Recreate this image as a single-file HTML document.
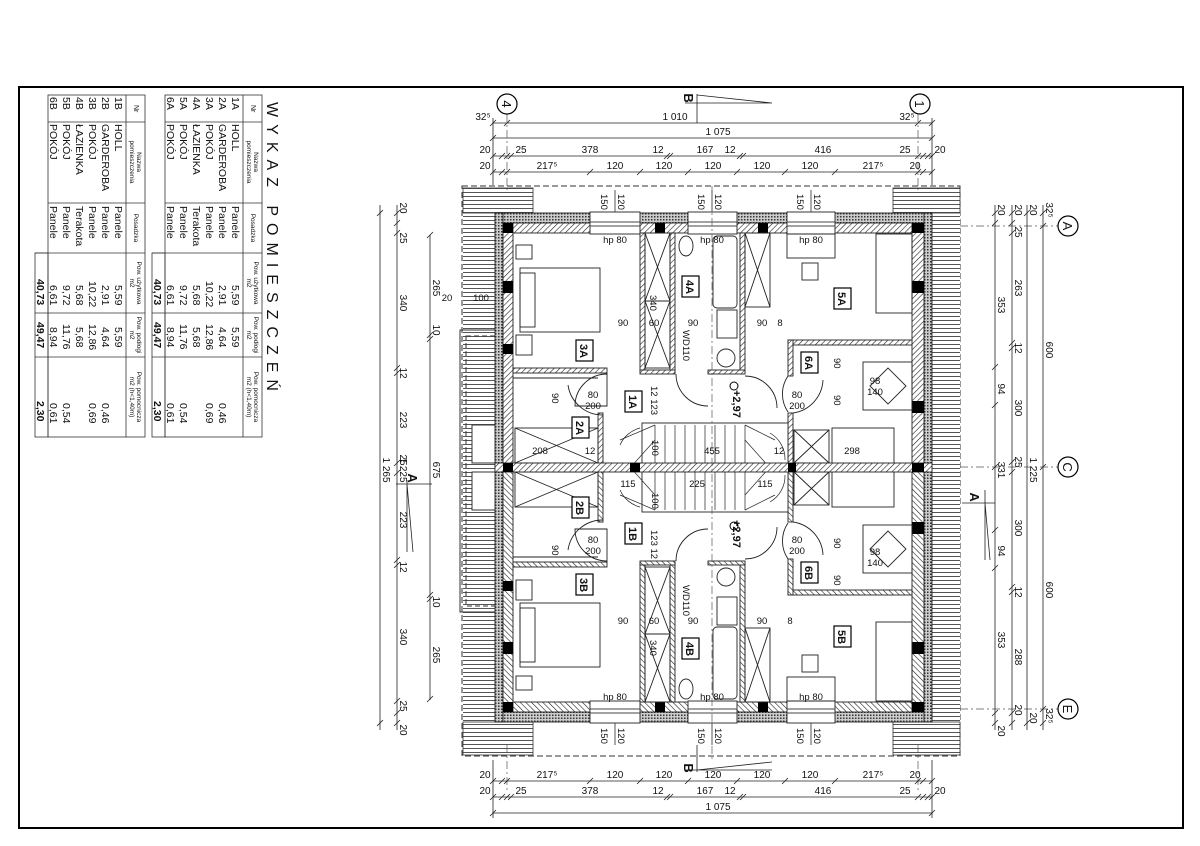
<!DOCTYPE html>
<html><head><meta charset="utf-8"><style>
html,body{margin:0;padding:0;background:#fff}
svg{display:block}
text{font-family:"Liberation Sans",sans-serif;fill:#111}
</style></head><body>
<svg width="1200" height="846" viewBox="0 0 1200 846" xmlns="http://www.w3.org/2000/svg">
<defs>
<pattern id="hh" width="4" height="4" patternUnits="userSpaceOnUse"><rect width="4" height="4" fill="#fff"/><line x1="0" y1="0.5" x2="4" y2="0.5" stroke="#555" stroke-width="1"/></pattern>
<pattern id="dg" width="4" height="4" patternUnits="userSpaceOnUse" patternTransform="rotate(45)"><rect width="4" height="4" fill="#fff"/><line x1="0" y1="0" x2="0" y2="4" stroke="#222" stroke-width="1.2"/></pattern>
<pattern id="dt" width="3" height="3" patternUnits="userSpaceOnUse"><rect width="3" height="3" fill="#ccc"/><rect width="1.5" height="1.5" fill="#333"/></pattern>
</defs>
<rect x="19" y="87" width="1164" height="741" fill="none" stroke="#000" stroke-width="2"/>

<!-- ===== TABLES ===== -->
<g font-size="10.5">
<g transform="translate(262,95) rotate(90)" stroke="#333" stroke-width="0.8">
 <rect x="0" y="0" width="342" height="97" fill="none"/>
 <rect x="158" y="97" width="184" height="13" fill="none"/>
 <line x1="0" y1="19" x2="342" y2="19"/>
 <line x1="27" y1="0" x2="27" y2="97"/><line x1="108" y1="0" x2="108" y2="97"/>
 <line x1="158" y1="0" x2="158" y2="110"/><line x1="218" y1="0" x2="218" y2="110"/><line x1="262" y1="0" x2="262" y2="110"/>
 <g stroke="none">
 <text x="10" y="11" font-size="7">Nr</text><text x="67" y="8" font-size="6.5" text-anchor="middle">Nazwa</text><text x="67" y="15" font-size="6.5" text-anchor="middle">pomieszczenia</text>
 <text x="133" y="11" font-size="6.5" text-anchor="middle">Posadzka</text>
 <text x="188" y="8" font-size="6.5" text-anchor="middle">Pow. użytkowa</text><text x="188" y="15" font-size="6.5" text-anchor="middle">m2</text>
 <text x="240" y="8" font-size="6.5" text-anchor="middle">Pow. podłogi</text><text x="240" y="15" font-size="6.5" text-anchor="middle">m2</text>
 <text x="302" y="8" font-size="6.5" text-anchor="middle">Pow. pomocnicza</text><text x="302" y="15" font-size="6.5" text-anchor="middle">m2 (h&lt;1,40m)</text>
 <text x="2" y="30">1A</text><text x="29" y="30">HOLL</text><text x="111" y="30">Panele</text><text x="190" y="30">5,59</text><text x="232" y="30">5,59</text>
 <text x="2" y="43">2A</text><text x="29" y="43">GARDEROBA</text><text x="111" y="43">Panele</text><text x="190" y="43">2,91</text><text x="232" y="43">4,64</text><text x="308" y="43">0,46</text>
 <text x="2" y="56">3A</text><text x="29" y="56">POKÓJ</text><text x="111" y="56">Panele</text><text x="186" y="56">10,22</text><text x="229" y="56">12,86</text><text x="308" y="56">0,69</text>
 <text x="2" y="69">4A</text><text x="29" y="69">ŁAZIENKA</text><text x="111" y="69">Terakota</text><text x="190" y="69">5,68</text><text x="232" y="69">5,68</text>
 <text x="2" y="82">5A</text><text x="29" y="82">POKÓJ</text><text x="111" y="82">Panele</text><text x="190" y="82">9,72</text><text x="229" y="82">11,76</text><text x="308" y="82">0,54</text>
 <text x="2" y="95">6A</text><text x="29" y="95">POKÓJ</text><text x="111" y="95">Panele</text><text x="190" y="95">6,61</text><text x="232" y="95">8,94</text><text x="308" y="95">0,61</text>
 <text x="184" y="108" font-weight="bold">40,73</text><text x="227" y="108" font-weight="bold">49,47</text><text x="306" y="108" font-weight="bold">2,30</text>
 <text x="155" y="-5" font-size="16" letter-spacing="7" text-anchor="middle">WYKAZ POMIESZCZEŃ</text>
 </g>
</g>
<g transform="translate(145,95) rotate(90)" stroke="#333" stroke-width="0.8">
 <rect x="0" y="0" width="342" height="97" fill="none"/>
 <rect x="158" y="97" width="184" height="13" fill="none"/>
 <line x1="0" y1="19" x2="342" y2="19"/>
 <line x1="27" y1="0" x2="27" y2="97"/><line x1="108" y1="0" x2="108" y2="97"/>
 <line x1="158" y1="0" x2="158" y2="110"/><line x1="218" y1="0" x2="218" y2="110"/><line x1="262" y1="0" x2="262" y2="110"/>
 <g stroke="none">
 <text x="10" y="11" font-size="7">Nr</text><text x="67" y="8" font-size="6.5" text-anchor="middle">Nazwa</text><text x="67" y="15" font-size="6.5" text-anchor="middle">pomieszczenia</text>
 <text x="133" y="11" font-size="6.5" text-anchor="middle">Posadzka</text>
 <text x="188" y="8" font-size="6.5" text-anchor="middle">Pow. użytkowa</text><text x="188" y="15" font-size="6.5" text-anchor="middle">m2</text>
 <text x="240" y="8" font-size="6.5" text-anchor="middle">Pow. podłogi</text><text x="240" y="15" font-size="6.5" text-anchor="middle">m2</text>
 <text x="302" y="8" font-size="6.5" text-anchor="middle">Pow. pomocnicza</text><text x="302" y="15" font-size="6.5" text-anchor="middle">m2 (h&lt;1,40m)</text>
 <text x="2" y="30">1B</text><text x="29" y="30">HOLL</text><text x="111" y="30">Panele</text><text x="190" y="30">5,59</text><text x="232" y="30">5,59</text>
 <text x="2" y="43">2B</text><text x="29" y="43">GARDEROBA</text><text x="111" y="43">Panele</text><text x="190" y="43">2,91</text><text x="232" y="43">4,64</text><text x="308" y="43">0,46</text>
 <text x="2" y="56">3B</text><text x="29" y="56">POKÓJ</text><text x="111" y="56">Panele</text><text x="186" y="56">10,22</text><text x="229" y="56">12,86</text><text x="308" y="56">0,69</text>
 <text x="2" y="69">4B</text><text x="29" y="69">ŁAZIENKA</text><text x="111" y="69">Terakota</text><text x="190" y="69">5,68</text><text x="232" y="69">5,68</text>
 <text x="2" y="82">5B</text><text x="29" y="82">POKÓJ</text><text x="111" y="82">Panele</text><text x="190" y="82">9,72</text><text x="229" y="82">11,76</text><text x="308" y="82">0,54</text>
 <text x="2" y="95">6B</text><text x="29" y="95">POKÓJ</text><text x="111" y="95">Panele</text><text x="190" y="95">6,61</text><text x="232" y="95">8,94</text><text x="308" y="95">0,61</text>
 <text x="184" y="108" font-weight="bold">40,73</text><text x="227" y="108" font-weight="bold">49,47</text><text x="306" y="108" font-weight="bold">2,30</text>
 </g>
</g>
</g>

<!-- ===== ROOF HATCH ===== -->
<rect x="462" y="186" width="498" height="570" fill="#fff" stroke="#333" stroke-width="1" stroke-dasharray="6,3"/>
<rect x="463" y="188" width="32" height="566" fill="url(#hh)"/>
<rect x="932" y="188" width="28" height="566" fill="url(#hh)"/>
<rect x="463" y="188" width="70" height="25" fill="url(#hh)" stroke="#333" stroke-width="0.8"/>
<rect x="893" y="188" width="67" height="25" fill="url(#hh)" stroke="#333" stroke-width="0.8"/>
<rect x="463" y="722" width="70" height="33" fill="url(#hh)" stroke="#333" stroke-width="0.8"/>
<rect x="893" y="722" width="67" height="33" fill="url(#hh)" stroke="#333" stroke-width="0.8"/>
<!-- left roof window -->
<rect x="460" y="330" width="43" height="282" fill="none" stroke="#333" stroke-width="1"/>
<rect x="466" y="336" width="36" height="270" fill="none" stroke="#333" stroke-width="1" stroke-dasharray="5,3"/>
<rect x="472" y="425" width="28" height="38" fill="#fff" stroke="#333"/>
<rect x="472" y="472" width="28" height="38" fill="#fff" stroke="#333"/>

<!-- ===== TOP HALF (mirrored for bottom) ===== -->
<g id="half" stroke="#222" stroke-width="0.9">
 <!-- outer walls -->
 <rect x="495" y="213" width="437" height="10" fill="url(#dt)"/>
 <rect x="495" y="213" width="8" height="255" fill="url(#dt)"/>
 <rect x="924" y="213" width="8" height="255" fill="url(#dt)"/>
 <rect x="503" y="223" width="421" height="10" fill="url(#dg)"/>
 <rect x="503" y="223" width="10" height="245" fill="url(#dg)"/>
 <rect x="912" y="223" width="12" height="245" fill="url(#dg)"/>
 <!-- windows -->
 <g fill="#fff"><rect x="590" y="212" width="50" height="22"/><rect x="688" y="212" width="49" height="22"/><rect x="787" y="212" width="48" height="22"/></g>
 <g stroke="#444"><line x1="590" y1="222" x2="640" y2="222"/><line x1="688" y1="222" x2="737" y2="222"/><line x1="787" y1="222" x2="835" y2="222"/>
 <line x1="590" y1="226" x2="640" y2="226"/><line x1="688" y1="226" x2="737" y2="226"/><line x1="787" y1="226" x2="835" y2="226"/>
 <line x1="615" y1="190" x2="615" y2="212"/><line x1="712" y1="190" x2="712" y2="212"/><line x1="811" y1="190" x2="811" y2="212"/></g>
 <rect x="787" y="234" width="48" height="24" fill="none"/>
 <!-- black columns -->
 <g fill="#000" stroke="none">
 <rect x="503" y="223" width="10" height="10"/><rect x="912" y="223" width="12" height="10"/>
 <rect x="655" y="223" width="10" height="10"/><rect x="758" y="223" width="10" height="10"/>
 <rect x="503" y="281" width="10" height="12"/><rect x="503" y="344" width="10" height="10"/>
 <rect x="912" y="281" width="12" height="12"/><rect x="912" y="401" width="12" height="12"/>
 </g>
 <!-- inner walls -->
 <g fill="url(#dg)">
 <rect x="640" y="233" width="5" height="138"/><rect x="670" y="233" width="5" height="140"/><rect x="740" y="233" width="5" height="140"/>
 <rect x="513" y="368" width="94" height="5"/><rect x="640" y="370" width="35" height="4"/><rect x="708" y="370" width="37" height="4"/>
 <rect x="598" y="413" width="5" height="54"/>
 <rect x="788" y="340" width="124" height="5"/><rect x="788" y="340" width="5" height="36"/><rect x="788" y="413" width="5" height="54"/>
 </g>
 <line x1="513" y1="378" x2="598" y2="378"/>
 <!-- closets -->
 <g fill="none"><rect x="645" y="233" width="25" height="68"/><rect x="645" y="301" width="25" height="67"/>
 <path d="M645 233L670 301M670 233L645 301M645 301L670 368M670 301L645 368"/>
 <rect x="745" y="233" width="25" height="74"/><path d="M745 233L770 307M770 233L745 307"/>
 <rect x="515" y="428" width="83" height="35"/><path d="M515 428L598 463M598 428L515 463"/>
 <rect x="794" y="430" width="35" height="33"/><path d="M794 430L829 463M829 430L794 463"/></g>
 <!-- stair -->
 <rect x="642" y="423" width="146" height="45" fill="#fff"/>
 <g stroke-width="0.7"><line x1="655" y1="425" x2="655" y2="468"/><line x1="665" y1="425" x2="665" y2="468"/><line x1="675" y1="425" x2="675" y2="468"/><line x1="685" y1="425" x2="685" y2="468"/><line x1="695" y1="425" x2="695" y2="468"/><line x1="705" y1="425" x2="705" y2="468"/><line x1="715" y1="425" x2="715" y2="468"/><line x1="725" y1="425" x2="725" y2="468"/><line x1="735" y1="425" x2="735" y2="468"/><line x1="745" y1="425" x2="745" y2="468"/>
 <path d="M655 425L620 440M655 440L630 468M745 425L775 440M745 440L770 468"/>
 <path d="M620 445 A30 30 0 0 1 640 428" fill="none"/><path d="M770 433 A30 30 0 0 1 785 460" fill="none"/></g>
 <!-- furniture -->
 <g fill="none">
 <rect x="520" y="268" width="80" height="64"/><rect x="520" y="273" width="15" height="54"/>
 <rect x="516" y="245" width="16" height="14"/><rect x="516" y="335" width="16" height="20"/>
 <ellipse cx="686" cy="246" rx="7" ry="10"/><rect x="713" y="236" width="24" height="72" rx="4"/>
 <rect x="717" y="310" width="20" height="28"/><circle cx="726" cy="358" r="9"/>
 <rect x="802" y="263" width="16" height="17"/>
 <rect x="876" y="234" width="36" height="79"/>
 <rect x="863" y="362" width="49" height="48"/><path d="M870 386L888 368L906 386L888 404Z"/>
 <rect x="832" y="428" width="62" height="36"/>
 <!-- door arcs -->
 <path d="M607 374 A32 32 0 0 0 575 406 L607 406Z"/>
 <path d="M568 385 A35 35 0 0 0 603 415"/>
 <path d="M676 374 A32 32 0 0 0 708 406"/>
 <path d="M745 376 A32 32 0 0 1 777 408"/>
 <path d="M788 376 A32 32 0 0 0 788 412"/>
 <path d="M793 413 A35 35 0 0 0 823 380"/>
 </g>
</g>
<use href="#half" transform="matrix(1 0 0 -1 0 935)"/>
<!-- centre wall -->
<rect x="495" y="463" width="437" height="9" fill="url(#dg)" stroke="#222" stroke-width="0.9"/>
<g fill="#000"><rect x="503" y="463" width="10" height="9"/><rect x="630" y="463" width="10" height="9"/><rect x="788" y="463" width="8" height="9"/><rect x="912" y="463" width="12" height="9"/></g>
<!-- axis dash lines -->
<g stroke="#555" stroke-width="0.7" stroke-dasharray="8,3,2,3">
<line x1="507" y1="114" x2="507" y2="190"/><line x1="918" y1="114" x2="918" y2="190"/>
<line x1="507" y1="745" x2="507" y2="790"/><line x1="918" y1="745" x2="918" y2="790"/>
<line x1="712" y1="186" x2="712" y2="760"/>
<line x1="960" y1="226" x2="1058" y2="226"/><line x1="960" y1="467" x2="1058" y2="467"/><line x1="960" y1="709" x2="1058" y2="709"/>
</g>

<!-- room tags -->
<g font-size="11" font-weight="bold" text-anchor="middle" stroke="#000" stroke-width="1.2">
<g fill="#fff">
<rect x="576" y="340" width="17" height="21"/><rect x="682" y="276" width="17" height="21"/><rect x="834" y="288" width="17" height="21"/><rect x="801" y="352" width="17" height="21"/><rect x="625" y="391" width="17" height="21"/><rect x="572" y="417" width="17" height="21"/>
<rect x="576" y="574" width="17" height="21"/><rect x="682" y="638" width="17" height="21"/><rect x="834" y="626" width="17" height="21"/><rect x="801" y="562" width="17" height="21"/><rect x="625" y="523" width="17" height="21"/><rect x="572" y="497" width="17" height="21"/>
</g></g>
<g font-size="11" font-weight="bold" text-anchor="middle">
<text transform="translate(580,351) rotate(90)">3A</text><text transform="translate(686,287) rotate(90)">4A</text><text transform="translate(838,299) rotate(90)">5A</text><text transform="translate(805,363) rotate(90)">6A</text><text transform="translate(629,402) rotate(90)">1A</text><text transform="translate(576,428) rotate(90)">2A</text>
<text transform="translate(580,585) rotate(90)">3B</text><text transform="translate(686,649) rotate(90)">4B</text><text transform="translate(838,637) rotate(90)">5B</text><text transform="translate(805,573) rotate(90)">6B</text><text transform="translate(629,534) rotate(90)">1B</text><text transform="translate(576,508) rotate(90)">2B</text>
</g>

<!-- inner labels -->
<g font-size="9.5" text-anchor="middle">
<text x="615" y="243">hp 80</text><text x="712" y="243">hp 80</text><text x="811" y="243">hp 80</text>
<text x="615" y="700">hp 80</text><text x="712" y="700">hp 80</text><text x="811" y="700">hp 80</text>
<text x="623" y="326">90</text><text x="654" y="326">60</text><text x="693" y="326">90</text><text x="762" y="326">90</text><text x="780" y="326">8</text>
<text x="623" y="624">90</text><text x="654" y="624">60</text><text x="693" y="624">90</text><text x="762" y="624">90</text><text x="790" y="624">8</text>
<text x="593" y="398">80</text><text x="593" y="409">200</text><text x="797" y="398">80</text><text x="797" y="409">200</text>
<text x="593" y="543">80</text><text x="593" y="554">200</text><text x="797" y="543">80</text><text x="797" y="554">200</text>
<text x="540" y="454">208</text><text x="590" y="454">12</text><text x="712" y="454">455</text><text x="779" y="454">12</text><text x="852" y="454">298</text>
<text x="628" y="487">115</text><text x="697" y="487">225</text><text x="765" y="487">115</text>
<text x="875" y="384">98</text><text x="875" y="395">140</text><text x="875" y="555">98</text><text x="875" y="566">140</text>
<text x="481" y="301">100</text><text x="447" y="301">20</text>
</g>
<g font-size="9.5">
<text transform="translate(650,295) rotate(90)">340</text><text transform="translate(650,640) rotate(90)">340</text>
<text transform="translate(651,386) rotate(90)">12 123</text><text transform="translate(651,530) rotate(90)">123 12</text>
<text transform="translate(683,330) rotate(90)">WD110</text><text transform="translate(683,585) rotate(90)">WD110</text>
<text transform="translate(733,390) rotate(90)" font-size="11" font-weight="bold">+2,97</text>
<text transform="translate(733,520) rotate(90)" font-size="11" font-weight="bold">+2,97</text>
<text transform="translate(552,393) rotate(90)">90</text><text transform="translate(552,545) rotate(90)">90</text>
<text transform="translate(834,358) rotate(90)">90</text><text transform="translate(834,395) rotate(90)">90</text>
<text transform="translate(834,538) rotate(90)">90</text><text transform="translate(834,575) rotate(90)">90</text>
<text transform="translate(652,440) rotate(90)">100</text><text transform="translate(652,493) rotate(90)">100</text>
</g>
<g fill="none" stroke="#000"><circle cx="734" cy="386" r="4"/><circle cx="734" cy="526" r="4"/></g>

<!-- ===== DIMENSIONS ===== -->
<g stroke="#222" stroke-width="0.8" fill="none">
<line x1="493" y1="123" x2="932" y2="123"/><line x1="493" y1="138" x2="932" y2="138"/><line x1="493" y1="156" x2="932" y2="156"/><line x1="493" y1="172" x2="932" y2="172"/>
<line x1="493" y1="781" x2="932" y2="781"/><line x1="493" y1="797" x2="932" y2="797"/><line x1="493" y1="813" x2="932" y2="813"/>
<line x1="493" y1="118" x2="493" y2="185"/><line x1="932" y1="118" x2="932" y2="185"/>
<line x1="493" y1="760" x2="493" y2="818"/><line x1="932" y1="760" x2="932" y2="818"/>
<!-- ticks top -->
<path d="M490 126l6-6M504 126l6-6M915 126l6-6M929 126l6-6M490 141l6-6M929 141l6-6
M490 159l6-6M499 159l6-6M504 159l6-6M508 159l6-6M664 159l6-6M667 159l6-6M737 159l6-6M740 159l6-6M915 159l6-6M920 159l6-6M925 159l6-6M929 159l6-6
M490 175l6-6M499 175l6-6M504 175l6-6M587 175l6-6M637 175l6-6M685 175l6-6M734 175l6-6M782 175l6-6M832 175l6-6M915 175l6-6M920 175l6-6M929 175l6-6"/>
<path d="M490 784l6-6M499 784l6-6M504 784l6-6M587 784l6-6M637 784l6-6M685 784l6-6M734 784l6-6M782 784l6-6M832 784l6-6M915 784l6-6M920 784l6-6M929 784l6-6
M490 800l6-6M499 800l6-6M504 800l6-6M508 800l6-6M664 800l6-6M667 800l6-6M737 800l6-6M740 800l6-6M915 800l6-6M920 800l6-6M925 800l6-6M929 800l6-6
M490 816l6-6M929 816l6-6"/>
<!-- right vertical -->
<line x1="995" y1="205" x2="995" y2="730"/><line x1="1012" y1="205" x2="1012" y2="730"/><line x1="1027" y1="205" x2="1027" y2="730"/><line x1="1043" y1="205" x2="1043" y2="730"/>
<path d="M992 216l6-6M992 226l6-6M992 370l6-6M992 408l6-6M992 470l6-6M992 533l6-6M992 571l6-6M992 716l6-6M992 726l6-6
M1009 216l6-6M1009 226l6-6M1009 236l6-6M1009 346l6-6M1009 351l6-6M1009 465l6-6M1009 475l6-6M1009 590l6-6M1009 595l6-6M1009 716l6-6M1009 726l6-6
M1024 216l6-6M1024 726l6-6M1040 216l6-6M1040 229l6-6M1040 470l6-6M1040 712l6-6M1040 726l6-6"/>
<!-- left vertical -->
<line x1="380" y1="205" x2="380" y2="730"/><line x1="397" y1="205" x2="397" y2="730"/><line x1="430" y1="235" x2="430" y2="700"/>
<path d="M377 216l6-6M377 726l6-6M394 216l6-6M394 226l6-6M394 236l6-6M394 371l6-6M394 376l6-6M394 466l6-6M394 476l6-6M394 563l6-6M394 568l6-6M394 704l6-6M394 716l6-6M394 726l6-6
M427 238l6-6M427 338l6-6M427 342l6-6M427 598l6-6M427 602l6-6M427 702l6-6"/>
<!-- section marks -->
<path d="M697 94V123M685 103H772M697 95L772 103"/>
<path d="M697 745V772M685 770H772M697 770L772 762"/>
<path d="M407 480V552M396 484H432M407 484L413 552" />
<path d="M985 490V560M962 503H995M985 503L990 560"/>
</g>
<g fill="#fff" stroke="#000" stroke-width="1.2">
<circle cx="507" cy="104" r="10"/><circle cx="920" cy="104" r="10"/>
<circle cx="1068" cy="226" r="10"/><circle cx="1068" cy="467" r="10"/><circle cx="1068" cy="709" r="10"/>
</g>
<g font-size="13" text-anchor="middle">
<text transform="translate(502,104) rotate(90)">4</text><text transform="translate(915,104) rotate(90)">1</text>
<text transform="translate(1063,226) rotate(90)">A</text><text transform="translate(1063,467) rotate(90)">C</text><text transform="translate(1063,709) rotate(90)">E</text>
<text transform="translate(684,98) rotate(90)" font-weight="bold">B</text><text transform="translate(684,768) rotate(90)" font-weight="bold">B</text>
<text transform="translate(408,478) rotate(90)" font-weight="bold">A</text><text transform="translate(970,497) rotate(90)" font-weight="bold">A</text>
</g>
<g font-size="10" text-anchor="middle">
<text x="483" y="120">32⁵</text><text x="675" y="120">1 010</text><text x="907" y="120">32⁵</text>
<text x="718" y="135">1 075</text>
<text x="485" y="153">20</text><text x="521" y="153">25</text><text x="590" y="153">378</text><text x="658" y="153">12</text><text x="705" y="153">167</text><text x="730" y="153">12</text><text x="823" y="153">416</text><text x="905" y="153">25</text><text x="940" y="153">20</text>
<text x="485" y="169">20</text><text x="547" y="169">217⁵</text><text x="615" y="169">120</text><text x="664" y="169">120</text><text x="713" y="169">120</text><text x="762" y="169">120</text><text x="810" y="169">120</text><text x="873" y="169">217⁵</text><text x="915" y="169">20</text>
<text x="485" y="778">20</text><text x="547" y="778">217⁵</text><text x="615" y="778">120</text><text x="664" y="778">120</text><text x="713" y="778">120</text><text x="762" y="778">120</text><text x="810" y="778">120</text><text x="873" y="778">217⁵</text><text x="915" y="778">20</text>
<text x="485" y="794">20</text><text x="521" y="794">25</text><text x="590" y="794">378</text><text x="658" y="794">12</text><text x="705" y="794">167</text><text x="730" y="794">12</text><text x="823" y="794">416</text><text x="905" y="794">25</text><text x="940" y="794">20</text>
<text x="718" y="810">1 075</text>
</g>
<g font-size="10" text-anchor="middle">
<!-- right -->
<text transform="translate(998,305) rotate(90)">353</text><text transform="translate(998,389) rotate(90)">94</text><text transform="translate(998,470) rotate(90)">331</text><text transform="translate(998,551) rotate(90)">94</text><text transform="translate(998,640) rotate(90)">353</text>
<text transform="translate(1015,288) rotate(90)">263</text><text transform="translate(1015,348) rotate(90)">12</text><text transform="translate(1015,408) rotate(90)">300</text><text transform="translate(1015,462) rotate(90)">25</text><text transform="translate(1015,528) rotate(90)">300</text><text transform="translate(1015,592) rotate(90)">12</text><text transform="translate(1015,657) rotate(90)">288</text>
<text transform="translate(1015,210) rotate(90)">20</text><text transform="translate(1015,232) rotate(90)">25</text><text transform="translate(1015,710) rotate(90)">20</text>
<text transform="translate(998,210) rotate(90)">20</text><text transform="translate(998,731) rotate(90)">20</text>
<text transform="translate(1030,470) rotate(90)">1 225</text><text transform="translate(1030,210) rotate(90)">20</text><text transform="translate(1030,718) rotate(90)">20</text>
<text transform="translate(1046,350) rotate(90)">600</text><text transform="translate(1046,590) rotate(90)">600</text><text transform="translate(1046,210) rotate(90)">32⁵</text><text transform="translate(1046,716) rotate(90)">32⁵</text>
<!-- left -->
<text transform="translate(383,470) rotate(90)">1 265</text>
<text transform="translate(400,470) rotate(90)">1 225</text>
<text transform="translate(400,303) rotate(90)">340</text><text transform="translate(400,373) rotate(90)">12</text><text transform="translate(400,420) rotate(90)">223</text><text transform="translate(400,460) rotate(90)">25</text><text transform="translate(400,520) rotate(90)">223</text><text transform="translate(400,567) rotate(90)">12</text><text transform="translate(400,637) rotate(90)">340</text>
<text transform="translate(400,208) rotate(90)">20</text><text transform="translate(400,238) rotate(90)">25</text><text transform="translate(400,706) rotate(90)">25</text><text transform="translate(400,730) rotate(90)">20</text>
<text transform="translate(433,288) rotate(90)">265</text><text transform="translate(433,330) rotate(90)">10</text><text transform="translate(433,470) rotate(90)">675</text><text transform="translate(433,602) rotate(90)">10</text><text transform="translate(433,655) rotate(90)">265</text>
</g>
<g font-size="9.5">
<text transform="translate(601,194) rotate(90)">150</text><text transform="translate(618,194) rotate(90)">120</text>
<text transform="translate(698,194) rotate(90)">150</text><text transform="translate(715,194) rotate(90)">120</text>
<text transform="translate(797,194) rotate(90)">150</text><text transform="translate(814,194) rotate(90)">120</text>
<text transform="translate(601,728) rotate(90)">150</text><text transform="translate(618,728) rotate(90)">120</text>
<text transform="translate(698,728) rotate(90)">150</text><text transform="translate(715,728) rotate(90)">120</text>
<text transform="translate(797,728) rotate(90)">150</text><text transform="translate(814,728) rotate(90)">120</text>
</g>
</svg>
</body></html>
